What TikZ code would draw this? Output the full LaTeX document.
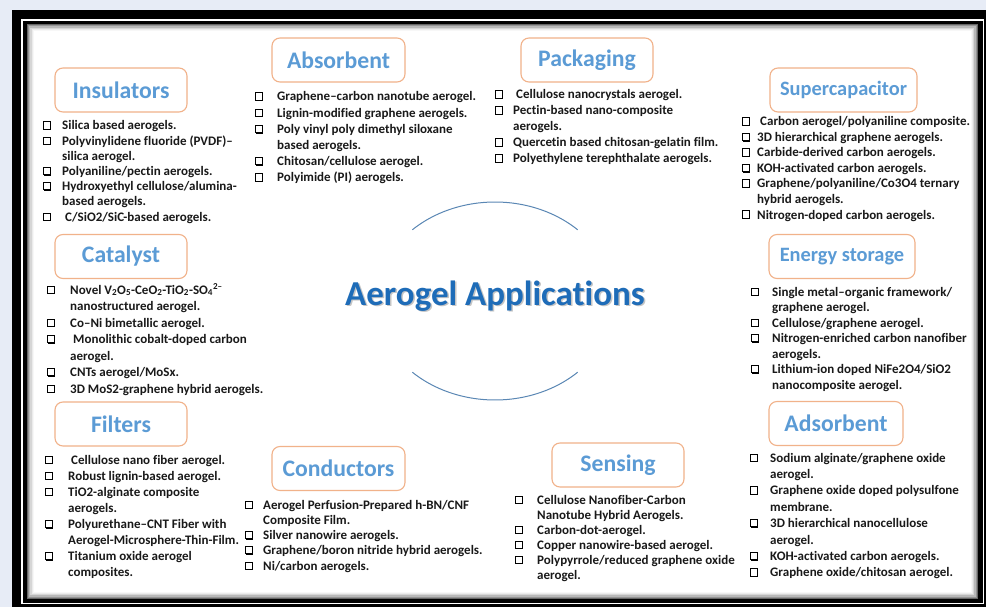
\documentclass[tikz,border=0pt]{standalone}
\usepackage{fontspec}
\setmainfont{Carlito}[Ligatures={TeX,NoCommon}]
\usetikzlibrary{shadows}
\definecolor{bgc}{RGB}{231,236,246}
\definecolor{hdorange}{RGB}{241,178,138}
\definecolor{hdblue}{RGB}{91,155,213}
\definecolor{ttl}{RGB}{30,108,184}
\definecolor{arcc}{RGB}{90,135,180}
\definecolor{txt}{RGB}{25,25,25}
\tikzset{
  itm/.style={anchor=base west, inner sep=0pt, text=txt, font=\fontsize{13}{15}\selectfont\bfseries},
  bulbox/.style={draw=black, fill=white, line width=1pt, inner sep=0pt, minimum size=7.2pt,
                 drop shadow={opacity=1, fill=black, shadow xshift=1pt, shadow yshift=-1pt}},
  hd/.style={draw=hdorange, line width=1.1pt, rounded corners=8pt, fill=white, inner sep=0pt,
             minimum height=44pt, text=hdblue, font=\fontsize{23.7}{26}\selectfont\bfseries},
  hdsmall/.style={font=\fontsize{20.4}{24}\selectfont\bfseries},
  arcline/.style={draw=arcc, line width=1pt},
}
\newcommand\mklist[6]{%
  \foreach \b/\t [count=\k] in {#6} {
    \pgfmathsetmacro\yy{#4+(\k-1)*#5}
    \node[itm] (#1-\k) at (#3,\yy) {\t};
    \ifnum\b=1 \node[bulbox] (#1-b\k) at ({#2+3.8},{\yy-4.4}) {};\fi
  }}
\begin{document}
\begin{tikzpicture}[x=1pt,y=-1pt]
\useasboundingbox (0,0) rectangle (986,607);
% frame
\fill[bgc] (0,0) rectangle (986,607);
\fill[black] (12,10) rectangle (986,607);
\fill[white] (21,19) rectangle (984,604);
\fill[black] (22.7,20.7) rectangle (983,602.5);
\foreach \i/\c in {0/60,1.2/42,2.4/28,3.6/16,4.8/8,6/3} {
  \fill[black!\c] ({26.7+\i},{24+\i}) rectangle ({978-\i},{599-\i});
}
\fill[white] (33.5,31) rectangle (971,592);
% central title and arcs
\draw[arcline] plot[domain=46:134, samples=50] ({495+119*cos(\x)}, {301-99*sin(\x)});
\draw[arcline] plot[domain=226:314, samples=50] ({495+119*cos(\x)}, {301-99*sin(\x)});
\node[text=black!45, opacity=0.5, font=\fontsize{35}{40}\selectfont\bfseries, inner sep=0pt, anchor=base] (titleshadow) at (496.5,306.5) {Aerogel Applications};
\node[text=ttl, font=\fontsize{35}{40}\selectfont\bfseries, inner sep=0pt, anchor=base] (title) at (495,305) {Aerogel Applications};
% headings
\node[hd, minimum width=132pt] (insh) at (121,90) {Insulators};
\node[hd, minimum width=133pt] (absh) at (338.5,60) {Absorbent};
\node[hd, minimum width=132pt] (pach) at (587,60) {Packaging};
\node[hd, hdsmall, minimum width=147pt] (suph) at (843.5,90) {Supercapacitor};
\node[hd, minimum width=132pt] (cath) at (121,256.5) {Catalyst};
\node[hd, hdsmall, minimum width=146pt] (engh) at (842,256.5) {Energy storage};
\node[hd, minimum width=132pt] (filh) at (121,424) {Filters};
\node[hd, minimum width=133pt] (conh) at (338.5,468.5) {Conductors};
\node[hd, minimum width=132pt] (senh) at (618,465) {Sensing};
\node[hd, minimum width=134pt] (adsh) at (836,423.5) {Adsorbent};
% lists
\mklist{ins}{43}{62}{130}{15.2}{1/{Silica based aerogels.},1/{Polyvinylidene fluoride (PVDF)--},0/{silica aerogel.},1/{Polyaniline/pectin aerogels.},1/{Hydroxyethyl cellulose/alumina-},0/{based aerogels.},1/{\hspace{3pt}C/SiO2/SiC-based aerogels.}}
\mklist{abs}{255}{277}{101}{16.2}{1/{Graphene--carbon nanotube aerogel.},1/{Lignin-modified graphene aerogels.},1/{Poly vinyl poly dimethyl siloxane},0/{based aerogels.},1/{Chitosan/cellulose aerogel.},1/{Polyimide (PI) aerogels.}}
\mklist{pac}{495}{513}{99}{16}{1/{\hspace{3pt}Cellulose nanocrystals aerogel.},1/{Pectin-based nano-composite},0/{aerogels.},1/{Quercetin based chitosan-gelatin film.},1/{Polyethylene terephthalate aerogels.}}
\mklist{sup}{742}{757}{126}{15.5}{1/{\hspace{3pt}Carbon aerogel/polyaniline composite.},1/{3D hierarchical graphene aerogels.},1/{Carbide-derived carbon aerogels.},1/{KOH-activated carbon aerogels.},1/{Graphene/polyaniline/Co3O4 ternary},0/{hybrid aerogels.},1/{Nitrogen-doped carbon aerogels.}}
\mklist{cat}{47}{70}{294}{16.5}{1/{Novel V\textsubscript{2}O\textsubscript{5}-CeO\textsubscript{2}-TiO\textsubscript{2}-SO\textsubscript{4}\textsuperscript{2--}},0/{nanostructured aerogel.},1/{Co--Ni bimetallic aerogel.},1/{\hspace{3pt}Monolithic cobalt-doped carbon},0/{aerogel.},1/{CNTs aerogel/MoSx.},1/{3D MoS2-graphene hybrid aerogels.}}
\mklist{eng}{751}{772}{296}{15.5}{1/{Single metal--organic framework/},0/{graphene aerogel.},1/{Cellulose/graphene aerogel.},1/{Nitrogen-enriched carbon nanofiber},0/{aerogels.},1/{Lithium-ion doped NiFe2O4/SiO2},0/{nanocomposite aerogel.}}
\mklist{fil}{45}{68}{464}{16.1}{1/{\hspace{3pt}Cellulose nano fiber aerogel.},1/{Robust lignin-based aerogel.},1/{TiO2-alginate composite},0/{aerogels.},1/{Polyurethane--CNT Fiber with},0/{Aerogel-Microsphere-Thin-Film.},1/{Titanium oxide aerogel},0/{composites.}}
\mklist{con}{245}{263}{509}{15.25}{1/{Aerogel Perfusion-Prepared h-BN/CNF},0/{Composite Film.},1/{Silver nanowire aerogels.},1/{Graphene/boron nitride hybrid aerogels.},1/{Ni/carbon aerogels.}}
\mklist{sen}{515}{537}{504}{15}{1/{Cellulose Nanofiber-Carbon},0/{Nanotube Hybrid Aerogels.},1/{Carbon-dot-aerogel.},1/{Copper nanowire-based aerogel.},1/{Polypyrrole/reduced graphene oxide},0/{aerogel.}}
\mklist{ads}{750}{770}{462}{16.4}{1/{Sodium alginate/graphene oxide},0/{aerogel.},1/{Graphene oxide doped polysulfone},0/{membrane.},1/{3D hierarchical nanocellulose},0/{aerogel.},1/{KOH-activated carbon aerogels.},1/{Graphene oxide/chitosan aerogel.}}
\end{tikzpicture}
\end{document}
